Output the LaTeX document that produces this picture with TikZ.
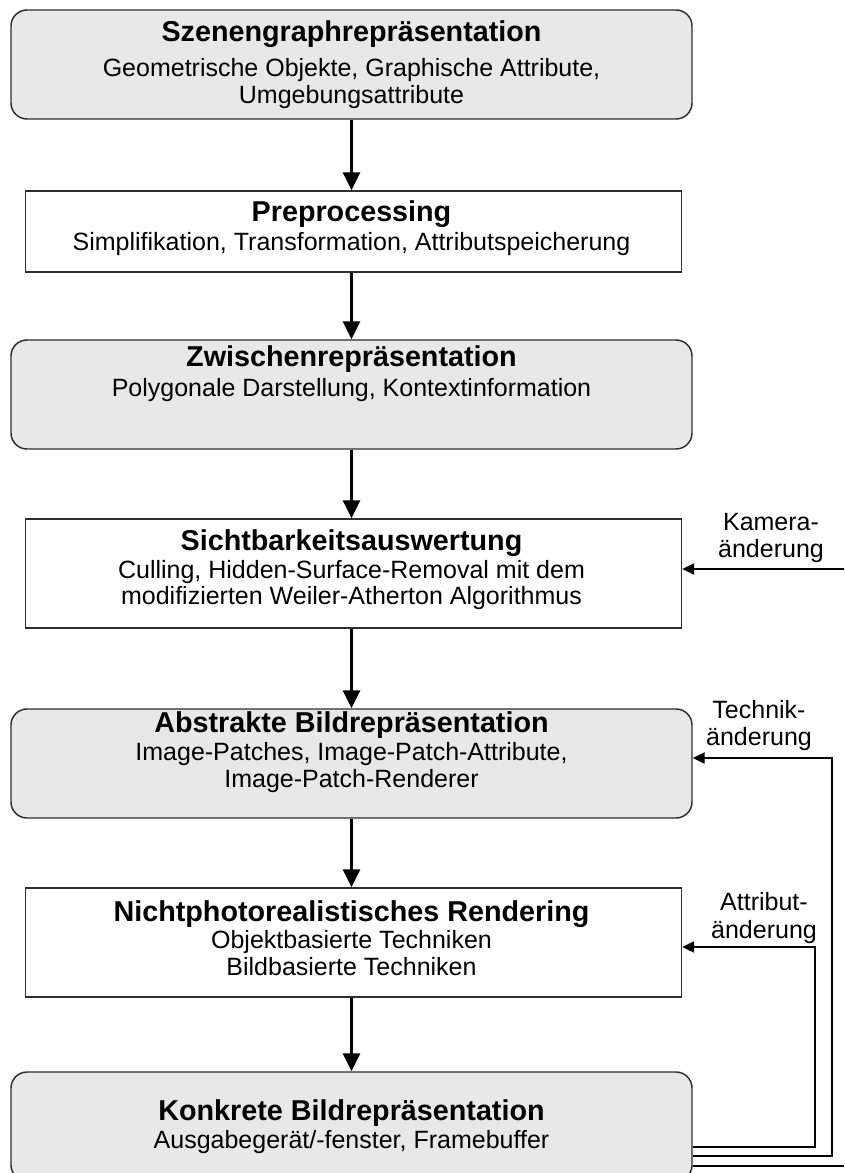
\documentclass[tikz,border=0pt]{standalone}
\usepackage{fontspec}
\setmainfont{Liberation Sans}
\usetikzlibrary{arrows.meta,fit}
\definecolor{boxfill}{HTML}{E8E8E8}
\definecolor{edge}{HTML}{2E2E2E}
\begin{document}
\begin{tikzpicture}[x=0.75pt,y=-0.75pt,
  stage/.style={draw=edge,line width=1.1pt,inner sep=0pt},
  roundstage/.style={stage,fill=boxfill,rounded corners=12pt},
  flatstage/.style={stage,fill=white},
  head/.style={anchor=base,font=\fontsize{21.55}{24}\selectfont\bfseries,inner sep=0pt},
  body/.style={anchor=base,font=\fontsize{18.75}{22}\selectfont,inner sep=0pt},
  flow/.style={line width=2.25pt,-{Triangle[length=13.5pt,width=12.75pt]}},
  feedback/.style={line width=1pt,-{Triangle[length=9pt,width=8.5pt]}},
]
\useasboundingbox (0,0) rectangle (844,1173);
\clip (0,0) rectangle (844,1173);

% pipeline stages
\node[roundstage,fit={(11,10) (692,119)}] (b1) {};
\node[flatstage,fit={(25.5,191) (681.5,272)}] (b2) {};
\node[roundstage,fit={(11,340) (692,449)}] (b3) {};
\node[flatstage,fit={(25.5,519) (681.5,628)}] (b4) {};
\node[roundstage,fit={(11,709) (692,818)}] (b5) {};
\node[flatstage,fit={(25.5,888) (681.5,997)}] (b6) {};
\node[roundstage,fit={(11,1072) (692,1181)}] (b7) {};

% stage texts
\node[head] (t1) at (351.5,42) {Szenengraphrepräsentation};
\node[body] (t1a) at (351.5,77) {Geometrische Objekte, Graphische Attribute,};
\node[body] (t1b) at (351.5,104) {Umgebungsattribute};

\node[head] (t2) at (351.5,222) {Preprocessing};
\node[body] (t2a) at (351.5,251) {Simplifikation, Transformation, Attributspeicherung};

\node[head] (t3) at (351.5,366) {Zwischenrepräsentation};
\node[body] (t3a) at (351.5,396) {Polygonale Darstellung, Kontextinformation};

\node[head] (t4) at (351.5,550) {Sichtbarkeitsauswertung};
\node[body] (t4a) at (351.5,578) {Culling, Hidden-Surface-Removal mit dem};
\node[body] (t4b) at (351.5,604) {modifizierten Weiler-Atherton Algorithmus};

\node[head] (t5) at (351.5,732) {Abstrakte Bildrepräsentation};
\node[body] (t5a) at (351.5,760) {Image-Patches, Image-Patch-Attribute,};
\node[body] (t5b) at (351.5,787) {Image-Patch-Renderer};

\node[head] (t6) at (351.5,921) {Nichtphotorealistisches Rendering};
\node[body] (t6a) at (351.5,948) {Objektbasierte Techniken};
\node[body] (t6b) at (351.5,975) {Bildbasierte Techniken};

\node[head] (t7) at (351.5,1120) {Konkrete Bildrepräsentation};
\node[body] (t7a) at (351.5,1148) {Ausgabegerät/-fenster, Framebuffer};

% main flow
\draw[flow] (b1.south) -- (b1.south |- b2.north);
\draw[flow] (b1.south |- b2.south) -- (b1.south |- b3.north);
\draw[flow] (b3.south) -- (b3.south |- b4.north);
\draw[flow] (b3.south |- b4.south) -- (b5.north);
\draw[flow] (b5.south) -- (b5.south |- b6.north);
\draw[flow] (b5.south |- b6.south) -- (b7.north);

% feedback loops
\draw[feedback] (b7.east |- 0,1166) -- (870,1166) -- (870,569) -- (b4.east |- 0,569);
\draw[feedback] (b7.east |- 0,1156) -- (832,1156) -- (832,758) -- (b5.east |- 0,758);
\draw[feedback] (b7.east |- 0,1147) -- (815,1147) -- (815,947) -- (b6.east |- 0,947);

% feedback labels
\node[body] (l1a) at (771,530) {Kamera-};
\node[body] (l1b) at (771,557) {änderung};
\node[body] (l2a) at (759,718) {Technik-};
\node[body] (l2b) at (759,745) {änderung};
\node[body] (l3a) at (764,910) {Attribut-};
\node[body] (l3b) at (764,938) {änderung};
\end{tikzpicture}
\end{document}
